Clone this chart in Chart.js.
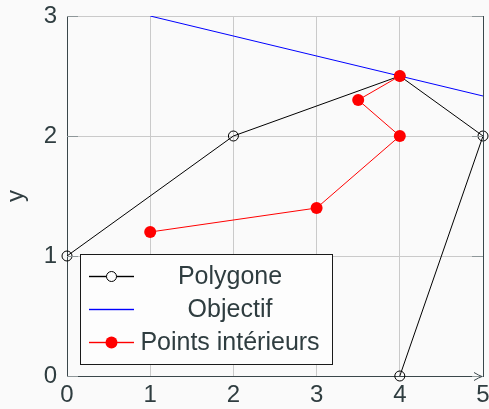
<!DOCTYPE html>
<html>
<head>
<meta charset="utf-8">
<script src="https://cdn.jsdelivr.net/npm/chart.js@4"></script>
<style>
  html, body { margin: 0; padding: 0; background: #fafafa; }
  #wrap { width: 489px; height: 409px; }
</style>
</head>
<body>
<div id="wrap"><canvas id="myChart" width="489" height="409"></canvas></div>
<script>
// polygon vertices (open path)
var polyX = [0, 2, 4, 5, 4];
var polyY = [1, 2, 2.5, 2, 0];
// objective line
var objX = [1, 5];
var objY = [3, 2.3333];
// interior points path
var intX = [1, 3, 4, 3.5, 4];
var intY = [1.2, 1.4, 2, 2.3, 2.5];
var xTicks = [0, 1, 2, 3, 4, 5];
var yTicks = [0, 1, 2, 3];
var labels = ['Polygone', 'Objectif', 'Points intérieurs'];
var seriesColors = ['#000000', '#0000ff', '#ff0000'];

var textColor = '#2f3d40';
var axisColor = '#3a474b';
var gridColor = '#cacaca';
var fontName = '"Liberation Sans", Arial, sans-serif';

function pts(xs, ys) {
    var out = [];
    for (var i = 0; i < xs.length; i++) out.push({x: xs[i], y: ys[i]});
    return out;
}

// frame, inner tick marks, arrow and legend box
var extras = {
    id: 'extras',
    afterDatasetsDraw: function(chart) {
        var c = chart.ctx, a = chart.chartArea;
        var ys = chart.scales.y;
        c.save();
        c.lineWidth = 1;
        c.strokeStyle = '#8e9799';
        yTicks.forEach(function(v) {
            var py = Math.round(ys.getPixelForValue(v)) + 0.5;
            c.beginPath();
            c.moveTo(a.left, py); c.lineTo(a.left + 11, py);
            c.moveTo(a.right, py); c.lineTo(a.right - 11, py);
            c.stroke();
        });
        // right border
        c.strokeStyle = axisColor;
        c.beginPath();
        c.moveTo(Math.round(a.right) + 0.5, a.top);
        c.lineTo(Math.round(a.right) + 0.5, a.bottom);
        c.stroke();
        // arrow head at end of x axis
        var by = Math.round(a.bottom) + 0.5, ex = a.right - 1;
        c.beginPath();
        c.moveTo(ex - 8, by - 4);
        c.quadraticCurveTo(ex - 3, by - 1, ex, by);
        c.quadraticCurveTo(ex - 3, by + 1, ex - 8, by + 4);
        c.stroke();

        // legend
        var lx = 80.5, ly = 254.5, lw = 252, lh = 110;
        c.fillStyle = '#fdfdfd';
        c.fillRect(lx, ly, lw, lh);
        c.strokeStyle = '#1a1a1a';
        c.strokeRect(lx, ly, lw, lh);
        var rows = [276, 309, 342];
        c.font = '25px ' + fontName;
        c.textAlign = 'center';
        c.textBaseline = 'middle';
        for (var i = 0; i < rows.length; i++) {
            var ry = rows[i];
            c.fillStyle = seriesColors[i];
            c.fillRect(89, ry - 0.2, 45, 1.4);
            if (i === 0) {
                c.beginPath();
                c.arc(111.5, ry + 0.5, 5, 0, Math.PI * 2);
                c.fillStyle = '#fdfdfd';
                c.fill();
                c.strokeStyle = seriesColors[0];
                c.stroke();
            } else if (i === 2) {
                c.fillStyle = seriesColors[2];
                c.beginPath();
                c.arc(111.5, ry + 0.5, 6, 0, Math.PI * 2);
                c.fill();
            }
            c.fillStyle = textColor;
            c.fillText(labels[i], 230, ry + 1);
        }
        c.restore();
    }
};

var chartdata = {
    datasets: [
        {
            label: labels[0],
            data: pts(polyX, polyY),
            order: 3,
            showLine: true,
            borderColor: seriesColors[0],
            borderWidth: 1,
            backgroundColor: 'rgba(0,0,0,0)',
            pointBorderColor: seriesColors[0],
            pointBorderWidth: 1,
            pointRadius: 5,
            clip: false
        },
        {
            label: labels[1],
            data: pts(objX, objY),
            order: 2,
            showLine: true,
            borderColor: seriesColors[1],
            borderWidth: 1,
            pointRadius: 0
        },
        {
            label: labels[2],
            data: pts(intX, intY),
            order: 1,
            showLine: true,
            borderColor: seriesColors[2],
            borderWidth: 1,
            backgroundColor: seriesColors[2],
            pointBackgroundColor: seriesColors[2],
            pointBorderWidth: 0,
            pointRadius: 6
        }
    ]
};

var options = {
    responsive: false,
    animation: false,
    layout: { padding: { top: 16, right: 6, bottom: 0, left: 0 } },
    plugins: { legend: { display: false }, tooltip: { enabled: false } },
    scales: {
        x: {
            type: 'linear',
            min: 0, max: 5,
            afterBuildTicks: function(s) { s.ticks = xTicks.map(function(v) { return {value: v}; }); },
            afterFit: function(s) { s.height = 33; s.paddingLeft = 0; s.paddingRight = 0; },
            ticks: { color: textColor, font: { family: fontName, size: 24 }, padding: 5, maxRotation: 0 },
            grid: { color: gridColor, drawTicks: false, tickLength: 0 },
            border: { color: axisColor, width: 1 }
        },
        y: {
            type: 'linear',
            min: 0, max: 3,
            afterBuildTicks: function(s) { s.ticks = yTicks.map(function(v) { return {value: v}; }); },
            afterFit: function(s) { s.width = 67; s.paddingTop = 0; s.paddingBottom = 0; },
            ticks: { color: textColor, font: { family: fontName, size: 24 }, padding: 10 },
            grid: { color: gridColor, drawTicks: false, tickLength: 0 },
            border: { color: axisColor, width: 1 },
            title: { display: true, text: 'y', color: textColor, font: { family: fontName, size: 24 }, padding: { top: 2, bottom: 0 } }
        }
    }
};

var ctx = document.getElementById('myChart');
var graph = new Chart(ctx, {
    type: 'scatter',
    data: chartdata,
    options: options,
    plugins: [extras]
});
</script>
</body>
</html>
